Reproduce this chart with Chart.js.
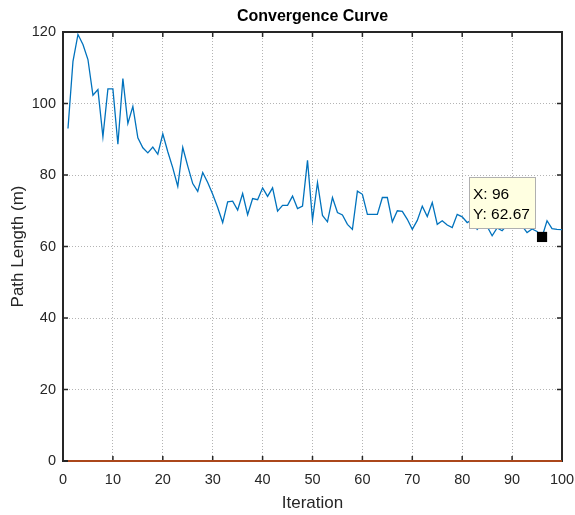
<!DOCTYPE html>
<html>
<head>
<meta charset="utf-8">
<title>Convergence Curve</title>
<script src="https://cdn.jsdelivr.net/npm/chart.js@4.4.0/dist/chart.umd.min.js"></script>
<style>
    html, body { margin: 0; padding: 0; background: #ffffff; }
</style>
</head>
<body>
<canvas id="chart" width="575" height="515"></canvas>
<script>
// best path length found at each iteration (iterations 1..100)
const pathLength = [
    93.0, 111.8, 119.3, 116.5, 112.3, 102.3, 103.9, 90.7, 104.1, 104.1,
    88.6, 107.0, 94.4, 99.2, 90.4, 87.6, 86.2, 87.8, 85.8, 91.5,
    86.5, 82.0, 76.8, 87.7, 82.5, 77.6, 75.4, 80.7, 77.9, 74.6,
    70.9, 66.7, 72.5, 72.7, 70.2, 74.8, 68.9, 73.4, 73.1, 76.4,
    74.0, 76.4, 69.9, 71.5, 71.5, 74.1, 70.6, 71.3, 84.1, 67.4,
    77.9, 68.7, 66.9, 73.7, 69.5, 68.8, 66.2, 64.8, 75.5, 74.6,
    69.0, 69.0, 69.0, 73.7, 73.7, 66.9, 70.0, 69.8, 67.6, 64.8,
    67.3, 71.3, 68.4, 72.3, 66.2, 67.2, 66.0, 65.3, 69.0, 68.3,
    66.7, 67.5, 64.8, 66.3, 65.6, 63.0, 65.2, 64.4, 66.0, 65.2,
    66.2, 65.8, 63.9, 64.9, 64.2, 62.67, 67.2, 65.0, 64.8, 64.7
]
// second plotted series, flat at zero
const baselineIter = [1, 100]
const baselineValue = [0, 0]
// data tip
const tipIter = 96
const tipValue = 62.67

const xTicks = [0, 10, 20, 30, 40, 50, 60, 70, 80, 90, 100]
const yTicks = [0, 20, 40, 60, 80, 100, 120]

const FONT = "'Liberation Sans', Arial, Helvetica, sans-serif"
const AXIS_COLOR = '#262626'

// matlab-ish box: inward ticks on all four sides, title, data tip
const axesBox = {
    id: 'axesBox',
    beforeDatasetsDraw(chart) {
        const {ctx, chartArea: a, scales: {x, y}} = chart
        ctx.save()
        ctx.strokeStyle = AXIS_COLOR
        ctx.lineWidth = 1.5
        ctx.beginPath()
        xTicks.forEach(t => {
            const px = x.getPixelForValue(t)
            ctx.moveTo(px, a.bottom)
            ctx.lineTo(px, a.bottom - 5)
            ctx.moveTo(px, a.top)
            ctx.lineTo(px, a.top + 5)
        })
        yTicks.forEach(t => {
            const py = y.getPixelForValue(t)
            ctx.moveTo(a.left, py)
            ctx.lineTo(a.left + 5, py)
            ctx.moveTo(a.right, py)
            ctx.lineTo(a.right - 5, py)
        })
        ctx.stroke()
        ctx.lineWidth = 2
        ctx.strokeRect(a.left, a.top, a.right - a.left, a.bottom - a.top)

        ctx.fillStyle = '#000000'
        ctx.font = `bold 16px ${FONT}`
        ctx.textAlign = 'center'
        ctx.textBaseline = 'middle'
        ctx.fillText('Convergence Curve', (a.left + a.right) / 2, 17)
        ctx.restore()
    },
    afterDatasetsDraw(chart) {
        const {ctx, scales: {x, y}} = chart
        const mx = x.getPixelForValue(tipIter)
        const my = y.getPixelForValue(tipValue)
        const bx = Math.round(mx - 73) + 0.5
        const by = Math.round(my - 60) + 0.5
        ctx.save()
        ctx.fillStyle = '#ffffe1'
        ctx.fillRect(bx, by, 66, 51)
        ctx.strokeStyle = '#b0b0b0'
        ctx.lineWidth = 1
        ctx.strokeRect(bx, by, 66, 51)
        ctx.fillStyle = '#000000'
        ctx.font = `15.5px ${FONT}`
        ctx.textAlign = 'left'
        ctx.textBaseline = 'middle'
        ctx.fillText(`X: ${tipIter}`, bx + 3.5, by + 17)
        ctx.fillText(`Y: ${tipValue.toFixed(2)}`, bx + 3.5, by + 37)
        ctx.restore()
    }
}

const chart = new Chart(document.getElementById('chart'), {
    type: 'line',
    data: {
        datasets: [
            {
                data: [{x: tipIter, y: tipValue}],
                showLine: false,
                pointStyle: 'rect',
                pointRadius: 7.2,
                pointBackgroundColor: '#000000',
                pointBorderColor: '#000000',
                pointBorderWidth: 0
            },
            {
                data: pathLength.map((v, i) => ({x: i + 1, y: v})),
                borderColor: '#0072bd',
                borderWidth: 1.3,
                pointRadius: 0,
                tension: 0,
                fill: false
            },
            {
                data: baselineIter.map((it, i) => ({x: it, y: baselineValue[i]})),
                borderColor: '#d95319',
                borderWidth: 1.3,
                pointRadius: 0,
                fill: false,
                clip: false
            }
        ]
    },
    options: {
        responsive: false,
        animation: false,
        events: [],
        layout: {
            padding: {left: 0, top: 32, right: 13, bottom: 0}
        },
        plugins: {
            legend: {display: false},
            title: {display: false},
            tooltip: {enabled: false}
        },
        scales: {
            x: {
                type: 'linear',
                min: 0,
                max: 100,
                afterBuildTicks: scale => { scale.ticks = xTicks.map(v => ({value: v})) },
                afterFit: scale => {
                    scale.height = 54
                    scale.paddingLeft = 0
                    scale.paddingRight = 0
                },
                grid: {
                    color: '#b4b4b4',
                    lineWidth: 1,
                    drawTicks: false
                },
                border: {display: false, dash: [1, 2]},
                ticks: {
                    padding: 10,
                    maxRotation: 0,
                    color: AXIS_COLOR,
                    font: {family: FONT, size: 14.5}
                },
                title: {
                    display: true,
                    text: 'Iteration',
                    color: AXIS_COLOR,
                    font: {family: FONT, size: 17},
                    padding: {top: 0, bottom: 1}
                }
            },
            y: {
                type: 'linear',
                min: 0,
                max: 120,
                afterBuildTicks: scale => { scale.ticks = yTicks.map(v => ({value: v})) },
                afterFit: scale => {
                    scale.width = 63
                    scale.paddingTop = 0
                    scale.paddingBottom = 0
                },
                grid: {
                    color: '#b4b4b4',
                    lineWidth: 1,
                    drawTicks: false
                },
                border: {display: false, dash: [1, 2]},
                ticks: {
                    padding: 7,
                    color: AXIS_COLOR,
                    font: {family: FONT, size: 14.5}
                },
                title: {
                    display: true,
                    text: 'Path Length (m)',
                    color: AXIS_COLOR,
                    font: {family: FONT, size: 17},
                    padding: {top: 8, bottom: 0}
                }
            }
        }
    },
    plugins: [axesBox]
})
</script>
</body>
</html>
